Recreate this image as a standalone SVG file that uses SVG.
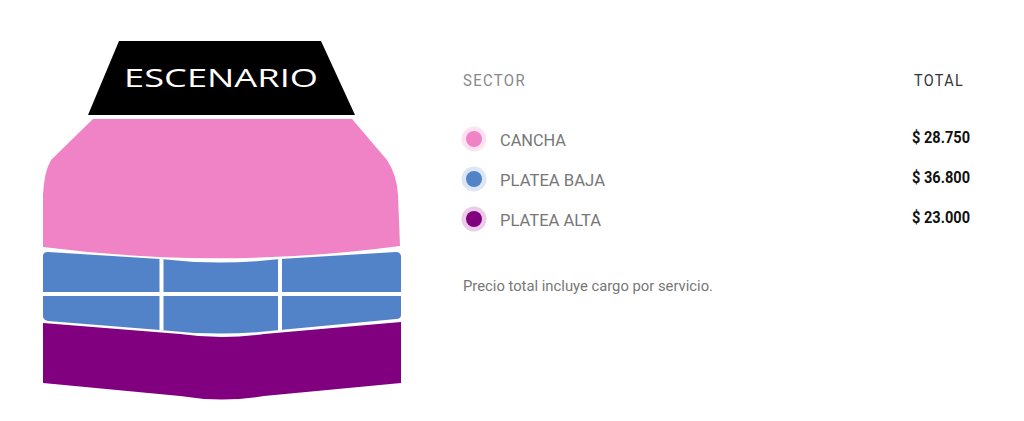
<svg xmlns="http://www.w3.org/2000/svg" width="1024" height="421" viewBox="0 0 1024 421">
<style>
.t{font-family:Roboto,"Liberation Sans",sans-serif;}
.hd{font-size:16.5px;}
.lbl{font-size:17px;fill:#777;}
.pr{font-size:16px;font-weight:bold;fill:#111;text-anchor:end;}
.gap{stroke:#fff;stroke-width:4;fill:none;}
</style>
<defs>
<path id="bajaShape" d="M43,256 Q43,252 48,252 L160,259 Q220,266 280,259 L396,252 Q401,252 401,257 L401,315 Q401,319 396,319 L280,330 Q220,337 160,330 L48,321 Q43,320 43,316 Z"/>
<clipPath id="bajaClip"><use href="#bajaShape"/></clipPath>
</defs>
<rect width="1024" height="421" fill="#fff"/>
<g id="stage">
<path d="M119,41 L321,41 L355,115 L88,115 Z" fill="#000"/>
<text x="221" y="87" font-family="'Open Sans','DejaVu Sans',sans-serif" font-size="25" fill="#fff" text-anchor="middle" textLength="194" lengthAdjust="spacingAndGlyphs">ESCENARIO</text>
</g>
<g id="cancha">
<path d="M93,119 L352,119 L387,160 Q397,175 398,195 L400,246 Q220,270 43,247 L43,195 Q44,172 51,160 Z" fill="#ef83c6"/>
</g>
<g id="platea-baja">
<use href="#bajaShape" fill="#5282c7"/>
<g clip-path="url(#bajaClip)">
<line class="gap" x1="43" y1="294" x2="401" y2="294"/>
<line class="gap" x1="161.5" y1="250" x2="161.5" y2="336"/>
<line class="gap" x1="280" y1="250" x2="280" y2="336"/>
</g>
</g>
<g id="platea-alta">
<path d="M43,323 L180,334 Q222,340 264,334 L401,322 L401,383 L264,396 Q222,403 180,396 L43,383 Z" fill="#800080"/>
</g>
<g id="header">
<text class="t hd" x="463" y="86" fill="#888" textLength="63" lengthAdjust="spacingAndGlyphs" letter-spacing="1.5">SECTOR</text>
<text class="t hd" x="914" y="86" fill="#333" textLength="50" lengthAdjust="spacingAndGlyphs" letter-spacing="1.5">TOTAL</text>
</g>
<g id="row-cancha">
<circle cx="474" cy="139" r="12.5" fill="#fde3f1"/>
<circle cx="474" cy="139" r="8" fill="#ef83c6"/>
<text class="t lbl" x="500" y="146" textLength="66" lengthAdjust="spacingAndGlyphs">CANCHA</text>
<text class="t pr" x="970" y="143" textLength="58" lengthAdjust="spacingAndGlyphs">$ 28.750</text>
</g>
<g id="row-platea-baja">
<circle cx="474" cy="179" r="12.5" fill="#dce6f4"/>
<circle cx="474" cy="179" r="8" fill="#5282c7"/>
<text class="t lbl" x="500" y="186" textLength="105" lengthAdjust="spacingAndGlyphs">PLATEA BAJA</text>
<text class="t pr" x="970" y="183" textLength="58" lengthAdjust="spacingAndGlyphs">$ 36.800</text>
</g>
<g id="row-platea-alta">
<circle cx="474" cy="219" r="12.5" fill="#ebcce8"/>
<circle cx="474" cy="219" r="8" fill="#800080"/>
<text class="t lbl" x="500" y="226" textLength="101" lengthAdjust="spacingAndGlyphs">PLATEA ALTA</text>
<text class="t pr" x="970" y="223" textLength="58" lengthAdjust="spacingAndGlyphs">$ 23.000</text>
</g>
<g id="note">
<text class="t" x="463" y="291" font-size="15" fill="#777" textLength="250" lengthAdjust="spacingAndGlyphs">Precio total incluye cargo por servicio.</text>
</g>
</svg>
